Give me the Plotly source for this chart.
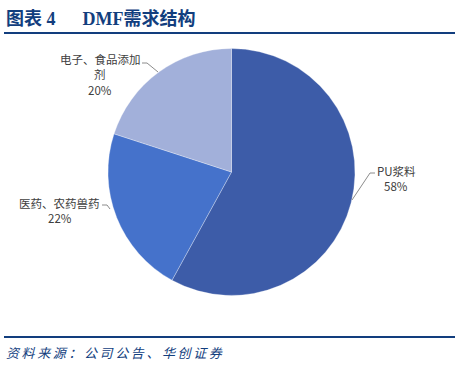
import plotly.graph_objects as go

categories = ["PU浆料", "医药、农药兽药", "电子、食品添加剂"]
shares = [58, 22, 20]
colors = ["#3D5CA8", "#4572CB", "#A2B0DA"]

W, H = 468, 366

fig = go.Figure(go.Pie(
    labels=categories, values=shares, sort=False, direction="clockwise",
    rotation=0, textinfo="none", hoverinfo="label+percent",
    marker=dict(colors=colors, line=dict(color="rgba(255,255,255,0.6)", width=0.5)),
    domain=dict(x=[108 / W, 355 / W], y=[(H - 296) / H, (H - 48) / H]),
    showlegend=False,
))

def px(x):
    return x / W

def py(y):
    return 1 - y / H

lab_font = dict(family="Noto Sans CJK SC, sans-serif", size=11.5, color="#404040")
ann = []
label_texts = [
    (categories[0], f"{shares[0]}%", 396, 171, 186),
    (categories[1], f"{shares[1]}%", 60, 203, 218),
]
for name, pct, x, y1, y2 in label_texts:
    ann.append(dict(x=px(x), y=py(y1), xref="paper", yref="paper", text=name,
                    showarrow=False, font=lab_font, xanchor="center", yanchor="middle"))
    ann.append(dict(x=px(x), y=py(y2), xref="paper", yref="paper", text=pct,
                    showarrow=False, font=lab_font, xanchor="center", yanchor="middle"))
ann.append(dict(x=px(100), y=py(59), xref="paper", yref="paper", text="电子、食品添加",
                showarrow=False, font=lab_font, xanchor="center", yanchor="middle"))
ann.append(dict(x=px(100), y=py(74), xref="paper", yref="paper", text="剂",
                showarrow=False, font=lab_font, xanchor="center", yanchor="middle"))
ann.append(dict(x=px(100), y=py(90), xref="paper", yref="paper", text=f"{shares[2]}%",
                showarrow=False, font=lab_font, xanchor="center", yanchor="middle"))

ann.append(dict(x=px(4), y=py(19), xref="paper", yref="paper",
                text="<b>图表 4\u00a0\u00a0\u00a0\u00a0\u00a0\u00a0DMF需求结构</b>", showarrow=False,
                font=dict(family="Liberation Serif, Noto Sans CJK SC, serif", size=18, color="#123E7E"),
                xanchor="left", yanchor="middle"))
source = "资料来源：公司公告、华创证券"
ann.append(dict(x=px(4), y=py(352), xref="paper", yref="paper",
                text="<i>" + "\u2009".join(source) + "</i>", showarrow=False,
                font=dict(family="Noto Sans CJK SC, sans-serif", size=13, color="#123E7E"),
                xanchor="left", yanchor="middle"))

line_col = "#8C8C8C"
shapes = [
    dict(type="line", xref="paper", yref="paper", x0=px(4), x1=px(455), y0=py(33), y1=py(33),
         line=dict(color="#123E7E", width=2.2)),
    dict(type="line", xref="paper", yref="paper", x0=px(4), x1=px(455), y0=py(337), y1=py(337),
         line=dict(color="#123E7E", width=2.2)),
    dict(type="path", xref="paper", yref="paper",
         path=f"M {px(375)} {py(173)} L {px(370)} {py(173)} L {px(352)} {py(200)}",
         line=dict(color=line_col, width=1)),
    dict(type="path", xref="paper", yref="paper",
         path=f"M {px(142)} {py(63)} L {px(147)} {py(63)} L {px(158)} {py(72)}",
         line=dict(color=line_col, width=1)),
    dict(type="path", xref="paper", yref="paper",
         path=f"M {px(102)} {py(205)} L {px(107)} {py(205)} L {px(110)} {py(209)}",
         line=dict(color=line_col, width=1)),
]

fig.update_layout(
    width=W, height=H, margin=dict(l=0, r=0, t=0, b=0),
    paper_bgcolor="white", plot_bgcolor="white",
    annotations=ann, shapes=shapes,
)

fig.write_html("out.html", config={"displayModeBar": False},
               post_script="document.body.style.margin='0';document.body.style.overflow='hidden';")
